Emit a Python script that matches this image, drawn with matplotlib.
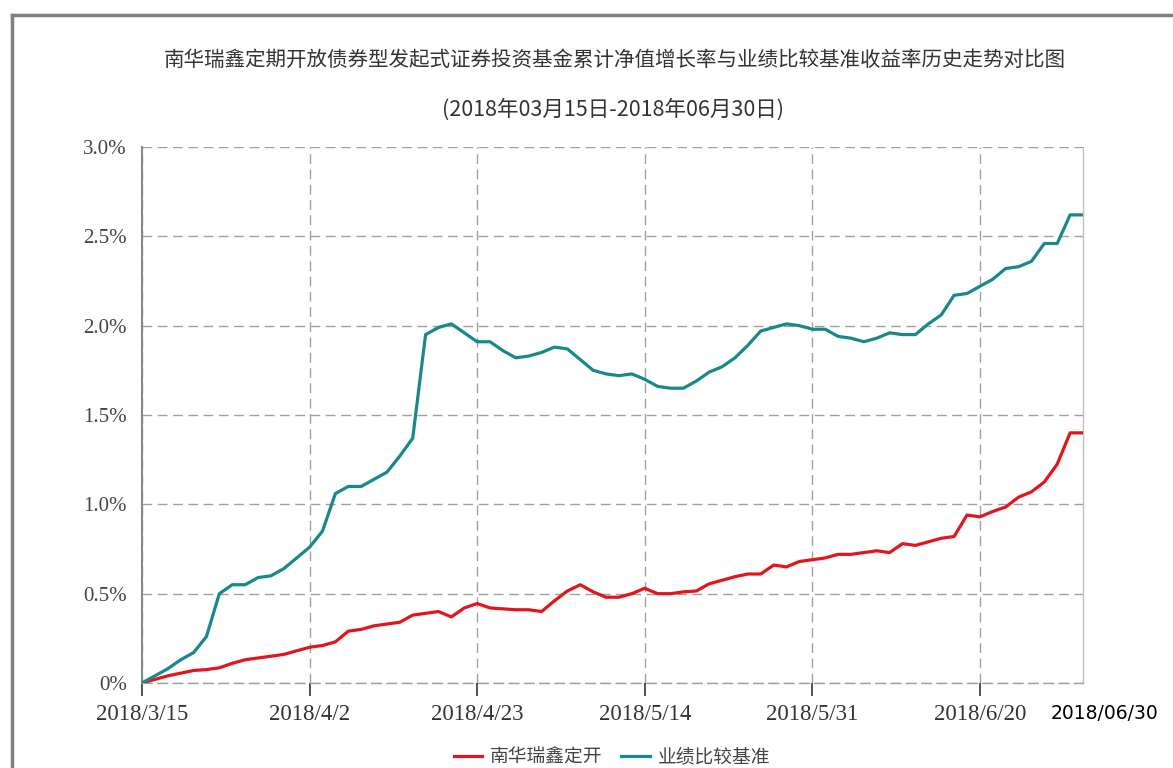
import matplotlib
matplotlib.use('Agg')
import matplotlib.pyplot as plt
import numpy as np

# 累计净值增长率 (%)，按交易日顺序读取
fund = [0.00, 0.02, 0.04, 0.055, 0.07, 0.075, 0.085, 0.11, 0.13, 0.14,
        0.15, 0.16, 0.18, 0.20, 0.21, 0.23, 0.29, 0.30, 0.32, 0.33,
        0.34, 0.38, 0.39, 0.40, 0.37, 0.42, 0.445, 0.42, 0.415, 0.41,
        0.41, 0.40, 0.46, 0.515, 0.55, 0.51, 0.48, 0.48, 0.50, 0.53,
        0.50, 0.50, 0.51, 0.515, 0.555, 0.575, 0.595, 0.61, 0.61, 0.66,
        0.65, 0.68, 0.69, 0.70, 0.72, 0.72, 0.73, 0.74, 0.73, 0.78,
        0.77, 0.79, 0.81, 0.82, 0.94, 0.93, 0.96, 0.985, 1.04, 1.07,
        1.125, 1.225, 1.40, 1.40]

# 业绩比较基准收益率 (%)
bench = [0.00, 0.04, 0.08, 0.13, 0.17, 0.26, 0.50, 0.55, 0.55, 0.59,
         0.60, 0.64, 0.70, 0.76, 0.85, 1.06, 1.10, 1.10, 1.14, 1.18,
         1.27, 1.37, 1.95, 1.99, 2.01, 1.96, 1.91, 1.91, 1.86, 1.82,
         1.83, 1.85, 1.88, 1.87, 1.81, 1.75, 1.73, 1.72, 1.73, 1.70,
         1.66, 1.65, 1.65, 1.69, 1.74, 1.77, 1.82, 1.89, 1.97, 1.99,
         2.01, 2.00, 1.98, 1.98, 1.94, 1.93, 1.91, 1.93, 1.96, 1.95,
         1.95, 2.01, 2.06, 2.17, 2.18, 2.22, 2.26, 2.32, 2.33, 2.36,
         2.46, 2.46, 2.62, 2.62]

tick_idx = [0, 13, 26, 39, 52, 65]
tick_labels = ['2018/3/15', '2018/4/2', '2018/4/23', '2018/5/14', '2018/5/31', '2018/6/20']
end_label = '2018/06/30'
y_ticks = [0, 0.5, 1.0, 1.5, 2.0, 2.5, 3.0]
y_labels = ['0%', '0.5%', '1.0%', '1.5%', '2.0%', '2.5%', '3.0%']

series_names = ['南华瑞鑫定开', '业绩比较基准']
title = '南华瑞鑫定期开放债券型发起式证券投资基金累计净值增长率与业绩比较基准收益率历史走势对比图'
subtitle = '(2018年03月15日-2018年06月30日)'

plt.rcParams['font.family'] = ['Noto Sans CJK SC', 'DejaVu Sans']

fig = plt.figure(figsize=(11.73, 7.68), dpi=100)
ax = fig.add_axes([142/1173, 1-683/768, (1083-142)/1173, (683-147)/768])

x = np.arange(len(fund))
ax.plot(x, fund, color='#e3151c', lw=2.3, label=series_names[0], zorder=3)
ax.plot(x, bench, color='#17898a', lw=2.3, label=series_names[1], zorder=3)

ax.set_xlim(0, len(fund) - 1)
ax.set_ylim(0, 3.0)
ax.set_yticks(y_ticks)
ax.set_yticklabels(y_labels, family='Liberation Serif', fontsize=15, color='#444444')
ax.set_xticks(tick_idx)
ax.set_xticklabels(tick_labels, family='Liberation Serif', fontsize=16.5, color='#333333')
ax.tick_params(axis='y', length=0, pad=11)
ax.tick_params(axis='x', length=9, width=1.2, color='#333333', pad=6)

# 虚线网格
dash = (0, (7, 4))
ax.grid(True, ls=dash, color='#a0a0a0', lw=1)
ax.spines['top'].set_visible(False)
ax.spines['bottom'].set_linestyle(dash)
ax.spines['bottom'].set_color('#a0a0a0')
ax.spines['bottom'].set_linewidth(1)
ax.spines['left'].set_color('#888888')
ax.spines['left'].set_linewidth(1.5)
ax.spines['right'].set_color('#c0c0c0')
ax.spines['right'].set_linewidth(1)

# 最后一天单独标注
ax.text(len(fund) - 1 + 1.7, -0.12, end_label,
        ha='center', va='top', fontsize=13.5, color='black', family='DejaVu Sans',
        clip_on=False)

fig.text(615/1173, 1-60/768, title, ha='center', va='center', fontsize=14.8, color='#333333')
fig.text(613/1173, 1-110/768, subtitle, ha='center', va='center', fontsize=15.5, color='#333333')

fig.legend(loc='center', bbox_to_anchor=(612/1173, 1-757/768), ncol=2, frameon=False,
           fontsize=13.5, handlelength=1.5, handletextpad=0.45, columnspacing=1.0,
           labelcolor='#444444')

# 外框
fig.add_artist(plt.Line2D([12/1173, 1], [1-15/768, 1-15/768], color='#808080', lw=2.5))
fig.add_artist(plt.Line2D([12/1173, 12/1173], [0, 1-15/768], color='#808080', lw=2.5))

fig.savefig('out.png', dpi=100)
